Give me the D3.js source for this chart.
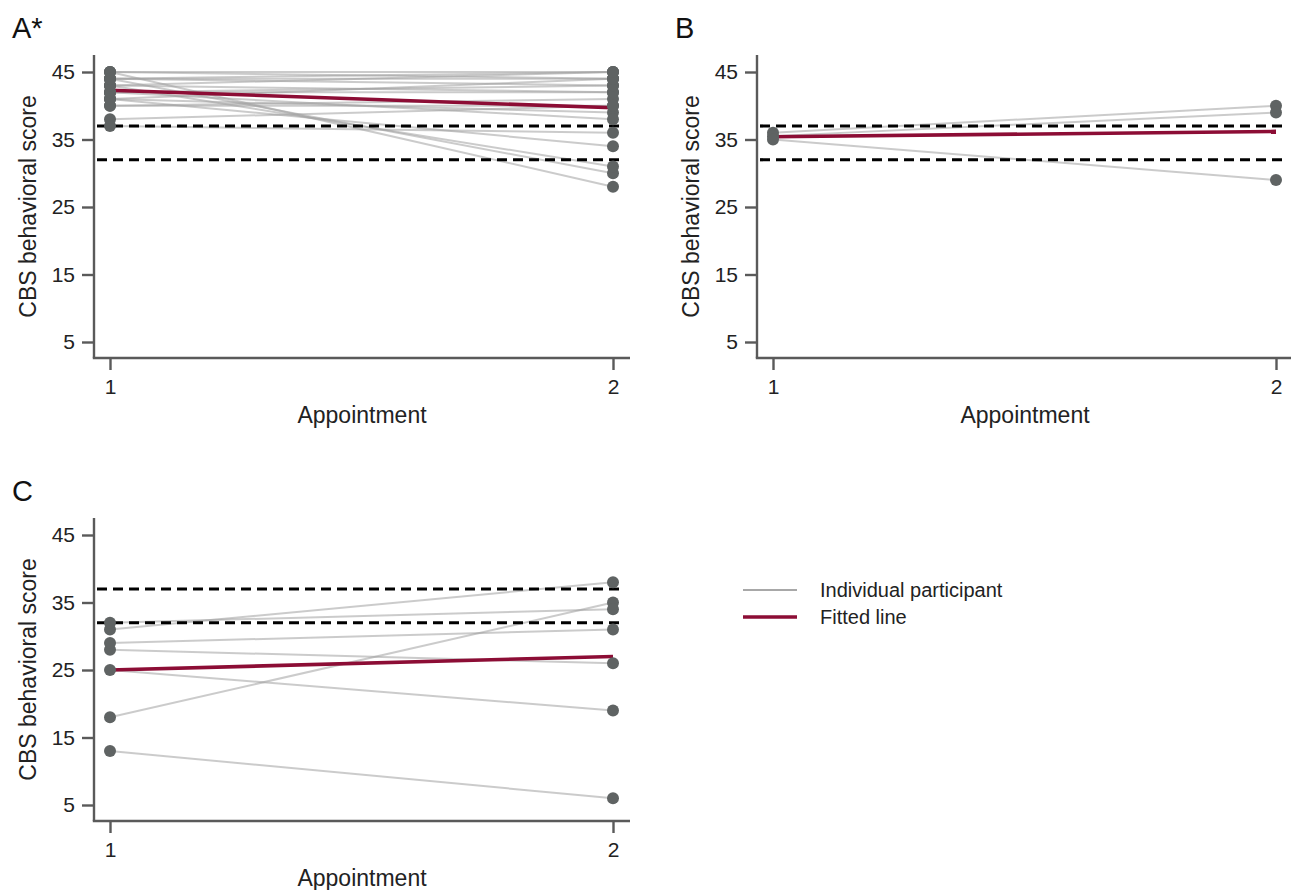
<!DOCTYPE html>
<html>
<head>
<meta charset="utf-8">
<script src="https://cdn.jsdelivr.net/npm/d3@7"></script>
<style>
  body { margin: 0; background: #fff; }
  svg { display: block; font-family: "Liberation Sans", Arial, sans-serif; }
</style>
</head>
<body>
<svg id="chart" width="1291" height="890"></svg>
<script>
// data
const appointments = [1, 2];
const yTicks = [5, 15, 25, 35, 45];
const cutoffs = [37, 32];

// panel A: score at appointment 1 and 2 per participant
const panelA_t1 = [45, 45, 44, 44, 43, 43, 42, 42, 41, 41, 40, 40, 41, 42, 38, 37, 43, 44, 45, 44];
const panelA_t2 = [45, 28, 30, 44, 31, 45, 43, 42, 34, 44, 41, 40, 39, 38, 40, 36, 42, 43, 44, 45];
const fitA = [42.3, 39.7];

const panelB_t1 = [36, 35.5, 35];
const panelB_t2 = [40, 39, 29];
const fitB = [35.4, 36.2];

const panelC_t1 = [13, 18, 25, 28, 29, 31, 32];
const panelC_t2 = [6, 35, 19, 26, 31, 38, 34];
const fitC = [25, 27];

const legendLabels = ["Individual participant", "Fitted line"];

const svg = d3.select("#chart");
const axisColor = "#5a5a5a";
const dotColor = "#5f6363";
const lineColor = "#a0a0a0";
const fitColor = "#8c0d35";
const font = "Liberation Sans, Arial, sans-serif";

function drawPanel(p) {
    const g = svg.append("g");
    const x = d3.scaleLinear().domain([1, 2]).range([p.left + 16, p.left + 519]);
    const y = d3.scaleLinear().domain([5, 45]).range([p.top + 287, p.top + 17]);
    const xMin = p.left, xMax = p.left + 536;
    const yBottom = p.top + 303;

    // panel letter
    g.append("text")
        .attr("x", p.left - 82).attr("y", p.top - 17)
        .attr("font-size", 29).attr("fill", "#111")
        .text(p.letter);

    // spines
    g.append("line")
        .attr("x1", xMin).attr("x2", xMin)
        .attr("y1", p.top).attr("y2", yBottom)
        .attr("stroke", axisColor).attr("stroke-width", 2.4);
    g.append("line")
        .attr("x1", xMin - 1.2).attr("x2", xMax)
        .attr("y1", yBottom).attr("y2", yBottom)
        .attr("stroke", axisColor).attr("stroke-width", 2.4);

    // y ticks
    const yAx = g.append("g").attr("transform", `translate(${xMin},0)`)
        .call(d3.axisLeft(y).tickValues(yTicks).tickSize(12).tickPadding(7));
    yAx.select(".domain").remove();
    yAx.selectAll("line").attr("stroke", axisColor).attr("stroke-width", 2.4);
    yAx.selectAll("text").attr("font-size", 21).attr("fill", "#222").attr("font-family", font);

    // x ticks
    const xAx = g.append("g").attr("transform", `translate(0,${yBottom})`)
        .call(d3.axisBottom(x).tickValues(appointments).tickFormat(d3.format("d")).tickSize(12).tickPadding(9));
    xAx.select(".domain").remove();
    xAx.selectAll("line").attr("stroke", axisColor).attr("stroke-width", 2.4);
    xAx.selectAll("text").attr("font-size", 21).attr("fill", "#222").attr("font-family", font);

    // axis titles
    g.append("text")
        .attr("x", (xMin + xMax) / 2).attr("y", yBottom + 65)
        .attr("text-anchor", "middle").attr("font-size", 23).attr("fill", "#222")
        .text("Appointment");
    g.append("text")
        .attr("transform", `translate(${xMin - 58},${(p.top + yBottom) / 2}) rotate(-90)`)
        .attr("text-anchor", "middle").attr("font-size", 23).attr("fill", "#222")
        .text("CBS behavioral score");

    const pairs = p.t1.map((v, i) => [v, p.t2[i]]);

    // individual participants
    g.selectAll(".ind").data(pairs).enter().append("line")
        .attr("x1", x(1)).attr("x2", x(2))
        .attr("y1", d => y(d[0])).attr("y2", d => y(d[1]))
        .attr("stroke", lineColor).attr("stroke-opacity", 0.55).attr("stroke-width", 2);

    // cut-off lines
    g.selectAll(".cut").data(cutoffs).enter().append("line")
        .attr("x1", xMin + 3).attr("x2", xMax - 8)
        .attr("y1", d => y(d)).attr("y2", d => y(d))
        .attr("stroke", "#000").attr("stroke-width", 3.2).attr("stroke-dasharray", "10,6");

    // fitted line
    g.append("line")
        .attr("x1", x(1)).attr("x2", x(2))
        .attr("y1", y(p.fit[0])).attr("y2", y(p.fit[1]))
        .attr("stroke", fitColor).attr("stroke-width", 3.6);

    // dots
    const dots = [];
    pairs.forEach(d => { dots.push([1, d[0]]); dots.push([2, d[1]]); });
    g.selectAll(".dot").data(dots).enter().append("circle")
        .attr("cx", d => x(d[0])).attr("cy", d => y(d[1]))
        .attr("r", 6).attr("fill", dotColor);
}

drawPanel({ letter: "A*", left: 94, top: 55, t1: panelA_t1, t2: panelA_t2, fit: fitA });
drawPanel({ letter: "B", left: 757, top: 55, t1: panelB_t1, t2: panelB_t2, fit: fitB });
drawPanel({ letter: "C", left: 94, top: 518, t1: panelC_t1, t2: panelC_t2, fit: fitC });

// legend
const legend = svg.append("g").attr("transform", "translate(743,590)");
const legendStyle = [
    { color: "#a8a8a8", width: 2 },
    { color: fitColor, width: 3.6 }
];
legendLabels.forEach((lab, i) => {
    legend.append("line")
        .attr("x1", 0).attr("x2", 54).attr("y1", i * 27).attr("y2", i * 27)
        .attr("stroke", legendStyle[i].color).attr("stroke-width", legendStyle[i].width);
    legend.append("text")
        .attr("x", 77).attr("y", i * 27).attr("dy", "0.35em")
        .attr("font-size", 20).attr("fill", "#222")
        .text(lab);
});
</script>
</body>
</html>
